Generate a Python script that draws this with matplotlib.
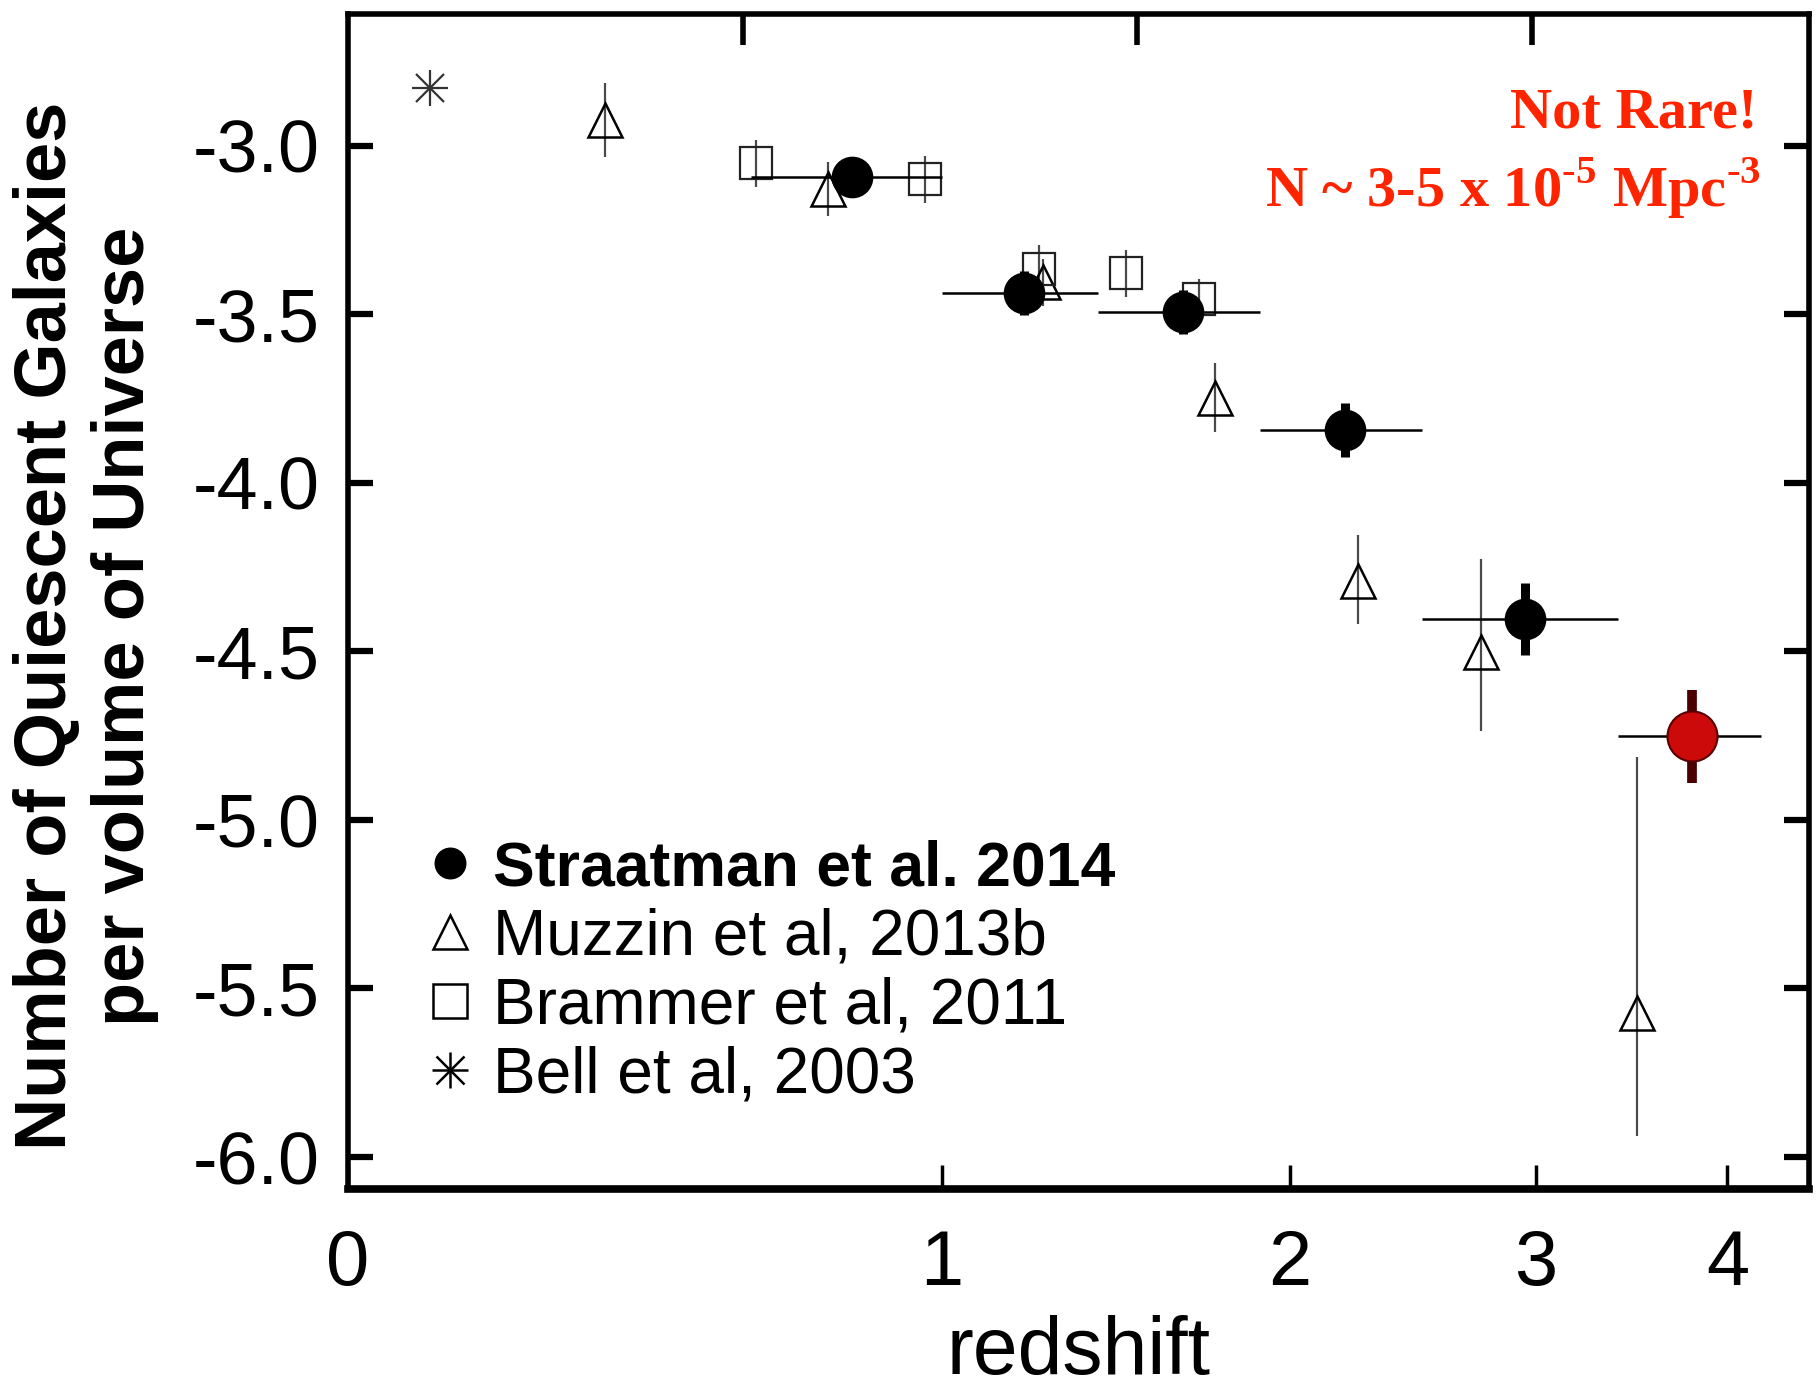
import numpy as np
import matplotlib
matplotlib.use("Agg")
import matplotlib.pyplot as plt
from matplotlib.lines import Line2D

plt.rcParams['font.family'] = ['Liberation Sans', 'DejaVu Sans']
plt.rcParams['mathtext.fontset'] = 'custom'
plt.rcParams['mathtext.rm'] = 'Liberation Serif:bold'
plt.rcParams['mathtext.bf'] = 'Liberation Serif:bold'

# ---- data: log10 number density of quiescent galaxies vs redshift ----
bell_z = [0.10]
bell_logn = [-2.83]

muzzin_z = [0.35, 0.75, 1.25, 1.75, 2.25, 2.75, 3.5]
muzzin_logn = [-2.925, -3.13, -3.405, -3.748, -4.29, -4.503, -5.572]
muzzin_err_lo = [0.11, 0.08, 0.07, 0.103, 0.13, 0.234, 0.366]
muzzin_err_hi = [0.11, 0.08, 0.07, 0.103, 0.134, 0.276, 0.759]

brammer_z = [0.61, 0.96, 1.24, 1.48, 1.70]
brammer_logn = [-3.053, -3.10, -3.366, -3.379, -3.455]
brammer_err = [0.07, 0.07, 0.07, 0.07, 0.06]

straat_z = [0.80, 1.20, 1.65, 2.20, 2.95]
straat_zlo = [0.60, 1.00, 1.40, 1.90, 2.50]
straat_zhi = [1.00, 1.40, 1.90, 2.50, 3.40]
straat_logn = [-3.093, -3.438, -3.493, -3.845, -4.403]
straat_err = [0.05, 0.065, 0.065, 0.08, 0.107]

new_z = [3.80]
new_zlo = [3.40]
new_zhi = [4.20]
new_logn = [-4.752]
new_err = [0.138]

xtick_vals = [0, 1, 2, 3, 4]
xtick_labels = ['0', '1', '2', '3', '4']
top_tick_log1pz = [0.2, 0.4, 0.6]
ytick_vals = [-6.0, -5.5, -5.0, -4.5, -4.0, -3.5, -3.0]
ytick_labels = ['-6.0', '-5.5', '-5.0', '-4.5', '-4.0', '-3.5', '-3.0']

legend_labels = ['Straatman et al. 2014', 'Muzzin et al, 2013b',
                 'Brammer et al, 2011', 'Bell et al, 2003']


def fwd(z):
    z = np.asarray(z, dtype=float)
    return np.log10(np.clip(1.0 + z, 1e-9, None))


def inv(u):
    return 10.0 ** np.asarray(u, dtype=float) - 1.0


fig = plt.figure(figsize=(18.17, 13.94), dpi=100)
ax = fig.add_axes([0.1915, 0.1470, 0.8041, 0.8429])
ax.set_xscale('function', functions=(fwd, inv))
ax.set_xlim(0, 4.5)
ax.set_ylim(-6.095, -2.61)

# Muzzin et al. (open triangles)
ax.errorbar(muzzin_z, muzzin_logn, yerr=[muzzin_err_lo, muzzin_err_hi],
            fmt='none', ecolor='#4a4a4a', elinewidth=1.6, capsize=0, zorder=2)
ax.plot(muzzin_z, muzzin_logn, ls='none', marker='^', ms=24, mfc='none',
        mec='black', mew=1.8, zorder=3)

# Brammer et al. (open squares)
ax.errorbar(brammer_z, brammer_logn, yerr=brammer_err, fmt='none',
            ecolor='#4a4a4a', elinewidth=1.6, capsize=0, zorder=2)
ax.plot(brammer_z, brammer_logn, ls='none', marker='s', ms=23, mfc='none',
        mec='#222222', mew=1.6, zorder=3)

# Bell et al. (asterisk)
ax.plot(bell_z, bell_logn, ls='none', marker='+', ms=26, mec='#333333', mew=1.6, zorder=3)
ax.plot(bell_z, bell_logn, ls='none', marker='x', ms=20, mec='#333333', mew=1.6, zorder=3)

# Straatman et al. (filled circles)
sz = np.array(straat_z)
ax.errorbar(straat_z, straat_logn,
            xerr=[sz - np.array(straat_zlo), np.array(straat_zhi) - sz],
            fmt='none', ecolor='black', elinewidth=1.8, capsize=0, zorder=4)
ax.errorbar(straat_z, straat_logn, yerr=straat_err, fmt='none',
            ecolor='black', elinewidth=6.5, capsize=0, zorder=4)
ax.plot(straat_z, straat_logn, ls='none', marker='o', ms=29, color='black', zorder=5)

# highlighted point
nz = np.array(new_z)
ax.errorbar(new_z, new_logn, xerr=[nz - np.array(new_zlo), np.array(new_zhi) - nz],
            fmt='none', ecolor='black', elinewidth=1.8, capsize=0, zorder=4)
ax.errorbar(new_z, new_logn, yerr=new_err, fmt='none', ecolor='#4a0000',
            elinewidth=7, capsize=0, zorder=4)
ax.plot(new_z, new_logn, ls='none', marker='o', ms=36, mfc='#cc0a0a',
        mec='#5a0000', mew=1.5, zorder=5)

# axes styling
for side in ['left', 'right', 'top']:
    ax.spines[side].set_linewidth(4)
ax.spines['bottom'].set_linewidth(5.5)

ax.set_xticks(xtick_vals)
ax.set_xticklabels(xtick_labels)
ax.minorticks_off()
ax.set_yticks(ytick_vals)
ax.set_yticklabels(ytick_labels)
ax.tick_params(axis='y', which='major', direction='in', length=18, width=4.5,
               labelsize=53, pad=20, left=True, right=True)
ax.tick_params(axis='x', which='major', direction='in', length=17, width=2.5,
               labelsize=56, pad=28, bottom=True, top=False)
ax.set_xlabel('redshift', fontsize=58, labelpad=10)

# unlabeled ticks along the top at fixed log10(1+z)
ax2 = ax.twiny()
ax2.set_xscale('function', functions=(fwd, inv))
ax2.set_xlim(ax.get_xlim())
ax2.set_xticks(inv(top_tick_log1pz))
ax2.set_xticklabels([])
ax2.minorticks_off()
ax2.tick_params(axis='x', direction='in', length=22, width=4, top=True)
for s in ax2.spines.values():
    s.set_visible(False)

fig.text(0.0473, 0.551, 'Number of Quiescent Galaxies\nper volume of Universe',
         rotation=90, ha='center', va='center', fontsize=52,
         fontweight='bold', linespacing=1.2)

ax.text(0.965, 0.915, 'Not Rare!', transform=ax.transAxes, ha='right',
        va='center', color='#ff2400', fontsize=42, fontweight='bold',
        family='Liberation Serif')
ax.text(0.967, 0.852, 'N ~ 3-5 x 10$^{\\mathbf{\u20105}}$ Mpc$^{\\mathbf{\u20103}}$',
        transform=ax.transAxes, ha='right', va='center', color='#ff2400',
        fontsize=42, fontweight='bold', family='Liberation Serif')

# legend
h_circ = Line2D([], [], ls='none', marker='o', ms=22, color='black')
h_tri = Line2D([], [], ls='none', marker='^', ms=24, mfc='none', mec='black', mew=1.8)
h_sq = Line2D([], [], ls='none', marker='s', ms=24, mfc='none', mec='black', mew=1.8)
h_star = (Line2D([], [], ls='none', marker='+', ms=26, mec='black', mew=1.8),
          Line2D([], [], ls='none', marker='x', ms=20, mec='black', mew=1.8))
leg = ax.legend([h_circ, h_tri, h_sq, h_star], legend_labels,
                loc='lower left', bbox_to_anchor=(0.053, 0.071), frameon=False,
                fontsize=46, handlelength=0.78, handletextpad=0.28,
                labelspacing=0.14, borderpad=0, borderaxespad=0)
leg.get_texts()[0].set_fontweight('bold')
leg.get_texts()[0].set_fontsize(45)

fig.savefig('out.png', dpi=100)
